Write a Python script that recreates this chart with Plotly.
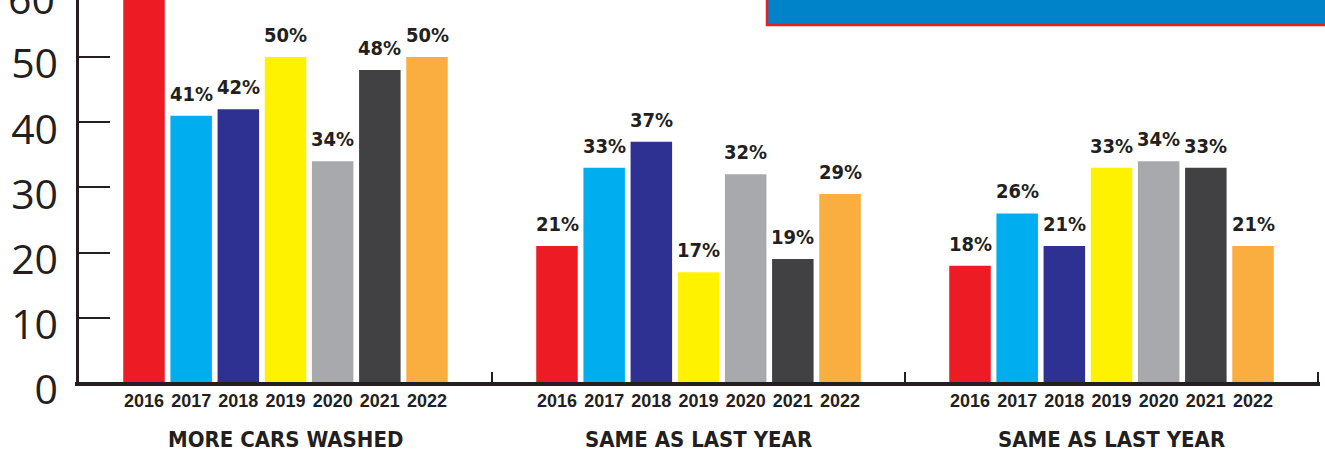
import plotly.graph_objects as go

years = ["2016", "2017", "2018", "2019", "2020", "2021", "2022"]
group_titles = ["MORE CARS WASHED", "SAME AS LAST YEAR", "SAME AS LAST YEAR"]
more_cars_washed = [62, 41, 42, 50, 34, 48, 50]
same_as_last_year_a = [21, 33, 37, 17, 32, 19, 29]
same_as_last_year_b = [18, 26, 21, 33, 34, 33, 21]
year_colors = ["#ED1C24", "#00AEEF", "#2E3192", "#FFF200", "#A7A9AC", "#414042", "#FBAE40"]
y_ticks = [0, 10, 20, 30, 40, 50, 60]

groups = [more_cars_washed, same_as_last_year_a, same_as_last_year_b]

INK = "#231f20"
COND = "DejaVu Sans Condensed, Liberation Sans Narrow, Arial Narrow, Liberation Sans"
W, H = 1325, 453
ML, MR, MT, MB = 79, 7, 0, 70
YMAX = 58.74
plot_w = W - ML - MR
plot_h = H - MT - MB

fig = go.Figure()
axis_ids = ["x", "x2", "x3"]
for i, vals in enumerate(groups):
    fig.add_trace(go.Bar(
        x=years, y=vals, xaxis=axis_ids[i], yaxis="y",
        marker=dict(color=year_colors, line=dict(width=0)),
        showlegend=False, hoverinfo="skip", cliponaxis=True,
    ))
    for j, v in enumerate(vals):
        fig.add_annotation(
            x=j, y=v, xref=axis_ids[i], yref="y", text=f"{v}%",
            showarrow=False, yanchor="bottom", yshift=8,
            font=dict(family=COND, size=20, color=INK, weight="bold"),
        )
    fig.add_annotation(
        x=0.5, xref=f"{axis_ids[i]} domain", y=-56 / plot_h, yref="paper",
        text=group_titles[i], showarrow=False, yanchor="middle",
        font=dict(family=COND, size=22, color=INK, weight="bold"),
    )

third = 1 / 3
for i in range(3):
    key = "xaxis" if i == 0 else f"xaxis{i+1}"
    fig.layout[key] = dict(
        domain=[i * third, (i + 1) * third], anchor="y",
        type="category", range=[-1.378, 7.378],
        showline=False, showgrid=False, zeroline=False, ticks="",
        tickfont=dict(family="Liberation Sans, Arial", size=18, color=INK, weight="bold"),
        ticklabelstandoff=5,
    )

fig.update_layout(
    yaxis=dict(
        range=[0, YMAX], tickvals=y_ticks, ticktext=[str(t) for t in y_ticks],
        showline=True, linewidth=2.5, linecolor=INK,
        ticks="inside", ticklen=31, tickwidth=2, tickcolor=INK,
        showgrid=False, zeroline=False,
        tickfont=dict(family="Open Sans, Noto Sans", size=41, color=INK),
        ticklabelstandoff=10, ticklabelshift=7,
    ),
    bargap=0.12,
    width=W, height=H,
    margin=dict(l=ML, r=MR, t=MT, b=MB),
    paper_bgcolor="white", plot_bgcolor="white",
)

# the "60" tick label, which sits above the visible top of the chart
fig.add_annotation(
    x=0, xref="paper", y=60 / YMAX, yref="paper", text="60", showarrow=False,
    xanchor="right", yanchor="middle", xshift=-22, yshift=-6,
    font=dict(family="Open Sans, Noto Sans", size=41, color=INK),
)

shapes = []
# thick baseline
shapes.append(dict(type="line", xref="paper", yref="paper",
                   x0=-4 / plot_w, x1=1 + 2 / plot_w, y0=-1 / plot_h, y1=-1 / plot_h,
                   line=dict(color=INK, width=4)))
# group divider ticks
for i in range(1, 4):
    shapes.append(dict(type="line", xref="paper", yref="paper",
                       x0=i * third, x1=i * third, y0=0, y1=11 / plot_h,
                       line=dict(color=INK, width=2)))
# blue title box (cropped)
shapes.append(dict(type="rect", xref="paper", yref="paper",
                   x0=(767 - ML) / plot_w, x1=1.05, y0=(plot_h - 25) / plot_h, y1=1.1,
                   fillcolor="#0083C9", line=dict(color="#ED1C24", width=2.5), layer="above"))
fig.update_layout(shapes=shapes)

fig.write_html("out.html")
